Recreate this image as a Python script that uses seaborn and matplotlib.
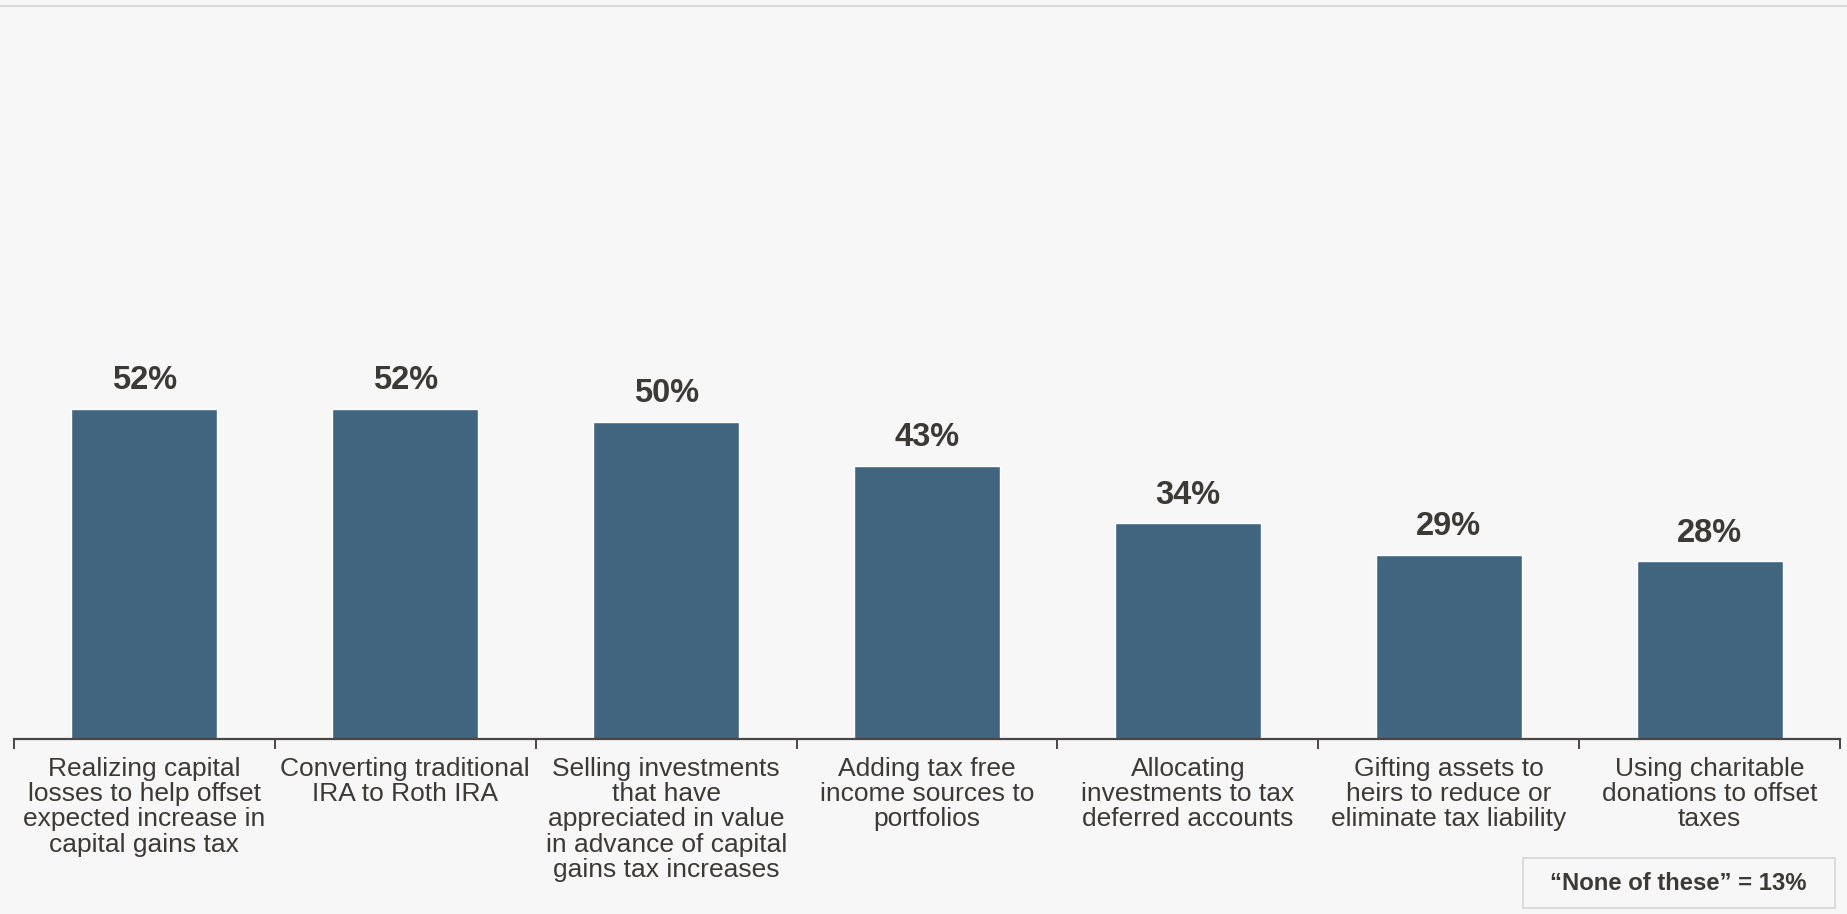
import matplotlib
matplotlib.use("Agg")
import matplotlib.pyplot as plt
from matplotlib.lines import Line2D
from matplotlib.patches import Rectangle
import numpy as np
import pandas as pd
import seaborn as sns

# Survey results: tax strategies being considered
categories = [
    "Realizing capital\nlosses to help offset\nexpected increase in\ncapital gains tax",
    "Converting traditional\nIRA to Roth IRA",
    "Selling investments\nthat have\nappreciated in value\nin advance of capital\ngains tax increases",
    "Adding tax free\nincome sources to\nportfolios",
    "Allocating\ninvestments to tax\ndeferred accounts",
    "Gifting assets to\nheirs to reduce or\neliminate tax liability",
    "Using charitable\ndonations to offset\ntaxes",
]
values = [52, 52, 50, 43, 34, 29, 28]
none_of_these = 13

BG = "#f7f7f7"
BAR = "#41647f"
TEXT = "#3d3935"
AXIS = "#4a4645"

sns.set_theme(style="white")
plt.rcParams["font.family"] = ["Liberation Sans", "DejaVu Sans"]

df = pd.DataFrame({"strategy": categories, "share": values})

fig = plt.figure(figsize=(18.47, 9.14), dpi=100, facecolor=BG)
ax = fig.add_axes([14 / 1847, (914 - 739) / 914, (1840 - 14) / 1847, 635 / 914])
ax.set_facecolor(BG)

sns.barplot(data=df, x="strategy", y="share", color=BAR, saturation=1,
            width=0.56, ax=ax)

ax.set_xlim(-0.5, len(values) - 0.5)
ax.set_ylim(0, 100)
ax.set_xlabel("")
ax.set_ylabel("")
ax.set_yticks([])

for s in ["top", "right", "left"]:
    ax.spines[s].set_visible(False)
ax.spines["bottom"].set_color(AXIS)
ax.spines["bottom"].set_linewidth(1.6)

# category labels at bar centres, separator ticks at category boundaries
ax.set_xticks(np.arange(len(values)))
ax.set_xticklabels(categories, fontsize=19, color=TEXT, linespacing=1.07)
ax.tick_params(axis="x", which="major", length=0, pad=12.7)
ax.set_xticks(np.arange(len(values) + 1) - 0.5, minor=True)
ax.tick_params(axis="x", which="minor", length=7, width=1.4, color=AXIS,
               direction="out", bottom=True)

# value labels above each bar
for i, v in enumerate(values):
    ax.annotate(f"{v}%", xy=(i, v), xytext=(0, 9), textcoords="offset points",
                ha="center", va="bottom", fontsize=23.5, fontweight="bold",
                color=TEXT)

# thin rule along the top of the figure
fig.add_artist(Line2D([0, 1], [1 - 5.5 / 914, 1 - 5.5 / 914],
                      transform=fig.transFigure, color="#d9d9d9", lw=1.6))

# footnote box
fig.add_artist(Rectangle((1523 / 1847, (914 - 908) / 914), 312 / 1847, 50 / 914,
                         transform=fig.transFigure, facecolor=BG,
                         edgecolor="#dcdcdc", lw=1.5))
fig.text(1678 / 1847, (914 - 883) / 914, f"\u201cNone of these\u201d = {none_of_these}%",
         ha="center", va="center", fontsize=17.2, fontweight="bold", color=TEXT)

fig.savefig("out.png", dpi=100, facecolor=BG)
